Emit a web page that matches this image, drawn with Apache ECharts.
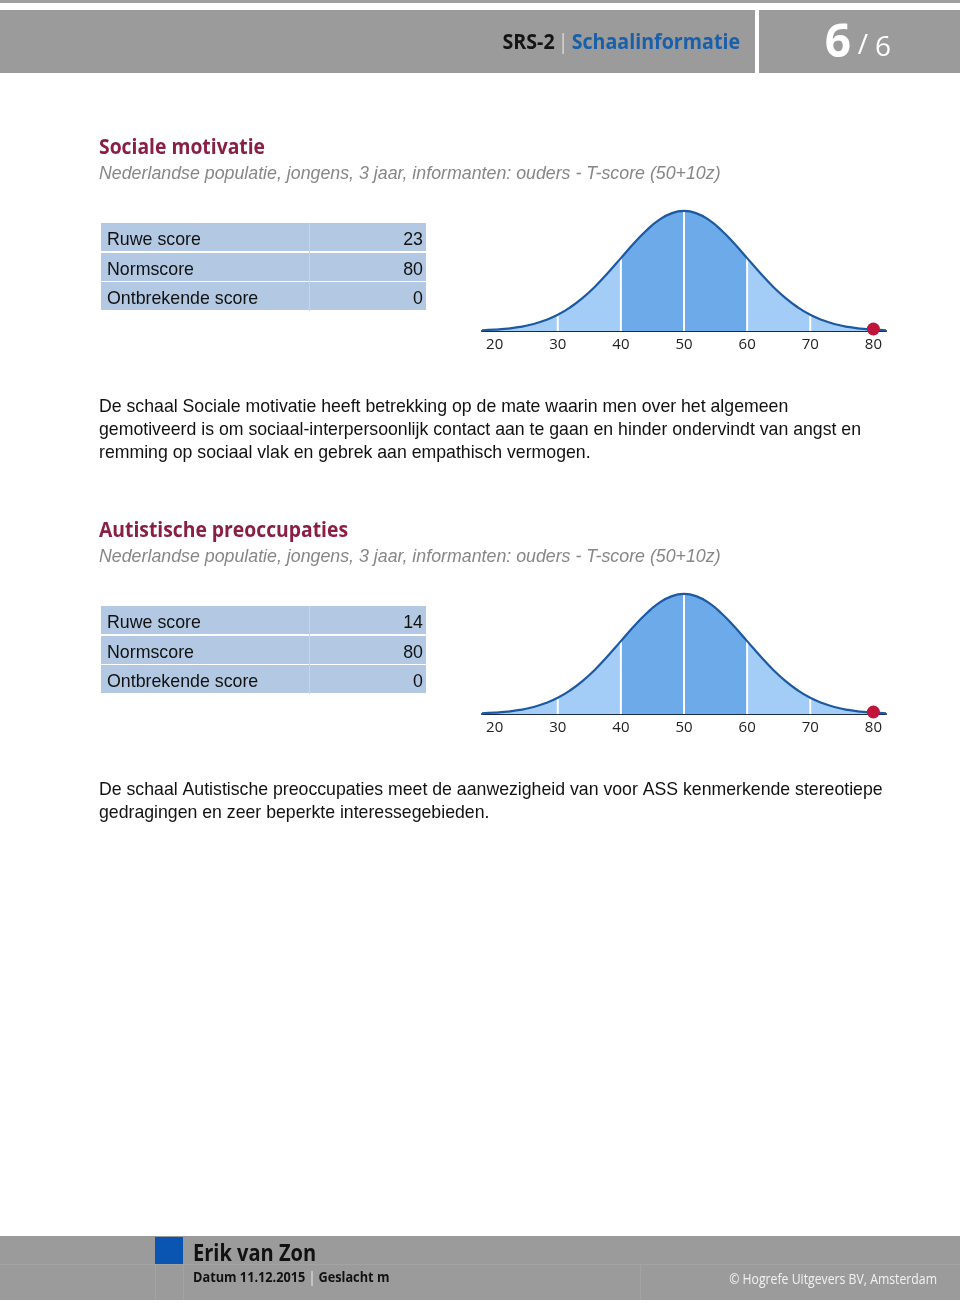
<!DOCTYPE html>
<html>
<head>
<meta charset="utf-8">
<script src="https://cdn.jsdelivr.net/npm/echarts@6/dist/echarts.min.js"></script>
<style>
html,body{margin:0;padding:0;background:#fff;}
#page{width:960px;height:1303px;}
</style>
</head>
<body>
<div id="page"></div>
<script>
// ---------- data ----------
const headerTitle = 'SRS-2';
const headerSection = 'Schaalinformatie';
const pageNo = '6';
const pageTotal = '6';

const subtitleText = 'Nederlandse populatie, jongens, 3 jaar, informanten: ouders - T-score (50+10z)';

const smTitle = 'Sociale motivatie';
const smRowLabels = ['Ruwe score', 'Normscore', 'Ontbrekende score'];
const smRowValues = ['23', '80', '0'];
const smNorm = 80;
const smText = [
  'De schaal Sociale motivatie heeft betrekking op de mate waarin men over het algemeen',
  'gemotiveerd is om sociaal-interpersoonlijk contact aan te gaan en hinder ondervindt van angst en',
  'remming op sociaal vlak en gebrek aan empathisch vermogen.'
];

const apTitle = 'Autistische preoccupaties';
const apRowLabels = ['Ruwe score', 'Normscore', 'Ontbrekende score'];
const apRowValues = ['14', '80', '0'];
const apNorm = 80;
const apText = [
  'De schaal Autistische preoccupaties meet de aanwezigheid van voor ASS kenmerkende stereotiepe',
  'gedragingen en zeer beperkte interessegebieden.'
];

// T-score axis ticks
const tickValues = [20, 30, 40, 50, 60, 70, 80];
const bandEdges = [30, 40, 50, 60, 70];
// bell curve (relative height, peak = 1)
const curveX = [18, 20, 22, 24, 26, 28, 30, 32, 34, 36, 38, 40, 42, 44, 46, 48, 50,
                52, 54, 56, 58, 60, 62, 64, 66, 68, 70, 72, 74, 76, 78, 80, 82];
const curveY = [0.006, 0.011, 0.020, 0.034, 0.056, 0.089, 0.135, 0.198, 0.278, 0.375, 0.487, 0.607,
                0.726, 0.835, 0.923, 0.980, 1.000, 0.980, 0.923, 0.835, 0.726, 0.607, 0.487,
                0.375, 0.278, 0.198, 0.135, 0.089, 0.056, 0.034, 0.020, 0.011, 0.006];

const footerName = 'Erik van Zon';
const footerMeta1 = 'Datum 11.12.2015';
const footerMeta2 = 'Geslacht m';
const footerCopy = '\u00a9 Hogrefe Uitgevers BV, Amsterdam';

// ---------- build ----------
const SANS = '"Liberation Sans", Arial, sans-serif';
const HUM = '"Open Sans", "Noto Sans", sans-serif';

const curve = curveX.map((x, i) => [x, curveY[i]]);
const mid = curve.filter(p => p[0] >= 40 && p[0] <= 60);
function yAt(x) { const i = curveX.indexOf(x); return curveY[i]; }

const chart = echarts.init(document.getElementById('page'), null, {renderer: 'canvas'});

const OFFSET = 383;
const grids = [], xAxes = [], yAxes = [], series = [];
const norms = [smNorm, apNorm];
norms.forEach((norm, k) => {
  grids.push({left: 482, width: 404, top: 201 + k * OFFSET, height: 130, containLabel: false});
  xAxes.push({
    gridIndex: k, type: 'value', min: 18, max: 82,
    axisLine: {show: true, lineStyle: {color: '#1c2c47', width: 2}},
    axisTick: {show: false},
    splitLine: {show: false},
    axisLabel: {customValues: tickValues, color: '#222222', fontFamily: HUM, fontSize: 15, margin: 6}
  });
  yAxes.push({gridIndex: k, type: 'value', min: 0, max: 1.083, show: false});
  series.push({
    type: 'line', xAxisIndex: k, yAxisIndex: k, data: curve, smooth: true, symbol: 'none',
    lineStyle: {width: 0}, areaStyle: {color: '#a3cdf7', opacity: 1}, z: 1, silent: true
  });
  series.push({
    type: 'line', xAxisIndex: k, yAxisIndex: k, data: mid, smooth: true, symbol: 'none',
    lineStyle: {width: 0}, areaStyle: {color: '#6caaea', opacity: 1}, z: 2, silent: true
  });
  bandEdges.forEach(x => {
    series.push({
      type: 'line', xAxisIndex: k, yAxisIndex: k, data: [[x, 0], [x, yAt(x)]], symbol: 'none',
      lineStyle: {color: '#ffffff', width: 2}, z: 3, silent: true
    });
  });
  series.push({
    type: 'line', xAxisIndex: k, yAxisIndex: k, data: curve, smooth: true, symbol: 'none',
    lineStyle: {color: '#1b5aa3', width: 2.2}, z: 4, silent: true
  });
  series.push({
    type: 'scatter', xAxisIndex: k, yAxisIndex: k, data: [[norm, 0]], symbolSize: 13,
    symbolOffset: [0, -2],
    itemStyle: {color: '#c0143a', opacity: 1}, z: 6, clip: false, silent: true
  });
});

// page graphics
const G = [];
function rect(x, y, w, h, fill) { G.push({type: 'rect', shape: {x, y, width: w, height: h}, style: {fill}, z: 0, silent: true}); }
function text(t, x, y, font, fill, align, sx) {
  G.push({type: 'text', x: x, y: y, scaleX: sx || 1, style: {text: t, font, fill, textAlign: align || 'left', textVerticalAlign: 'middle'}, z: 10, silent: true});
}

// header
rect(0, 0, 960, 3, '#9f9f9f');
rect(0, 10, 755, 63, '#9b9b9b');
rect(759, 10, 201, 63, '#9b9b9b');
G.push({type: 'text', x: 740, y: 43, scaleX: 0.935, z: 10, silent: true, style: {
  text: '{a|' + headerTitle + '} {b||} {c|' + headerSection + '}',
  textAlign: 'right', textVerticalAlign: 'middle',
  rich: {
    a: {font: 'bold 21px ' + HUM, fill: '#141414'},
    b: {font: '21px ' + HUM, fill: '#d8d8d8'},
    c: {font: 'bold 21px ' + HUM, fill: '#1a5fa9'}
  }
}});
text(pageNo, 838, 44, 'bold 46px ' + HUM, '#ffffff', 'center');
text('/', 863, 46, '28px ' + HUM, '#ffffff', 'center');
text(pageTotal, 883, 48, '28px ' + HUM, '#ffffff', 'center');

// sections
function section(k, title, labels, values, lines) {
  const o = k * OFFSET;
  text(title, 99, 148 + o, 'bold 21px ' + HUM, '#8a1f45', 'left', 0.92);
  text(subtitleText, 99, 174 + o, 'italic 17.8px ' + SANS, '#878787');
  const rowTops = [223, 253, 282];
  rowTops.forEach((ty, i) => {
    rect(101, ty + o, 325, 28, '#b3c9e3');
    text(labels[i], 107, ty + 17 + o, '17.8px ' + SANS, '#111111');
    text(values[i], 423, ty + 17 + o, '17.8px ' + SANS, '#111111', 'right');
  });
  G.push({type: 'rect', shape: {x: 309, y: 223 + o, width: 1, height: 88}, style: {fill: '#c6d6ea'}, z: 1, silent: true});
  lines.forEach((ln, i) => text(ln, 99, 407 + i * 23 + o, '17.7px ' + SANS, '#111111'));
}
section(0, smTitle, smRowLabels, smRowValues, smText);
section(1, apTitle, apRowLabels, apRowValues, apText);

// footer
rect(0, 1236, 960, 64, '#9b9b9b');
rect(0, 1264, 960, 1, '#a4a4a4');
rect(155, 1264, 1, 36, '#a4a4a4');
rect(183, 1264, 1, 36, '#a4a4a4');
rect(640, 1264, 1, 36, '#a4a4a4');
rect(155, 1237, 28, 27, '#0b55b2');
text(footerName, 193, 1254, 'bold 24px ' + HUM, '#111111', 'left', 0.835);
G.push({type: 'text', x: 193, y: 1278, scaleX: 0.91, z: 10, silent: true, style: {
  text: '{a|' + footerMeta1 + '} {b||} {a|' + footerMeta2 + '}',
  textVerticalAlign: 'middle',
  rich: {a: {font: 'bold 14px ' + HUM, fill: '#111111'}, b: {font: '14px ' + HUM, fill: '#eeeeee'}}
}});
text(footerCopy, 937, 1280, '14px ' + HUM, '#f2f2f2', 'right', 0.875);

chart.setOption({
  animation: false,
  backgroundColor: '#ffffff',
  grid: grids, xAxis: xAxes, yAxis: yAxes, series: series,
  graphic: {elements: G}
});
</script>
</body>
</html>
